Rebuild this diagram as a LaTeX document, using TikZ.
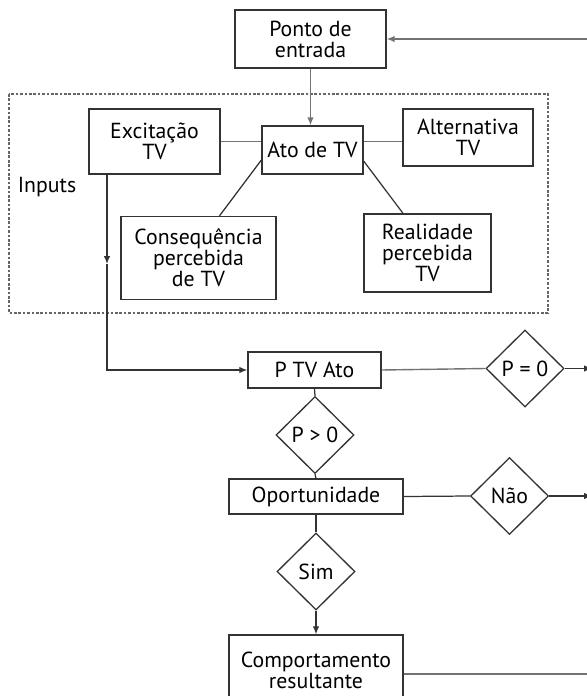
\documentclass[tikz,border=0pt]{standalone}
\usepackage{fontspec}
\setmainfont{PT Sans}
\usetikzlibrary{shapes.geometric,arrows.meta,calc}

\tikzset{
  caixa/.style={draw=black!80, line width=0.75pt, align=center, inner sep=1pt,
    font=\fontsize{12.4}{12}\selectfont},
  losango/.style={diamond, draw=black!80, line width=0.75pt, inner sep=0pt,
    minimum width=1.56cm, minimum height=1.54cm, font=\fontsize{12.4}{12}\selectfont},
  liga/.style={draw=black!80, line width=0.7pt},
  ligaclara/.style={draw=black!55, line width=0.8pt},
  >={Latex[length=1.6mm,width=1.3mm]}
}

\begin{document}
\begin{tikzpicture}[x=0.02cm, y=-0.02cm]
	%\draw[help lines] (0,0) grid (587,696);
	\useasboundingbox (0,0) rectangle (587,696);
	\clip (0,0) rectangle (587,696);

	% caixas
	\node[caixa, minimum width=3.02cm, minimum height=1.16cm] (ponto) at (310.5,39) {Ponto de\\entrada};
	\node[caixa, minimum width=2.62cm, minimum height=1.30cm] (excit) at (154.5,141.5) {Excitação\\TV};
	\node[caixa, minimum width=2.02cm, minimum height=0.96cm] (ato) at (312.5,150) {Ato de TV};
	\node[caixa, minimum width=2.60cm, minimum height=1.14cm] (alt) at (468,137.5) {Alternativa\\TV};
	\node[caixa, minimum width=2.54cm, minimum height=1.56cm] (real) at (427.5,253) {Realidade\\percebida\\TV};
	\node[caixa, minimum width=3.10cm, minimum height=1.66cm] (cons) at (198.5,258) {Consequência\\percebida\\de TV};
	\node[caixa, minimum width=2.66cm, minimum height=0.72cm] (ptv) at (314.5,370) {P TV Ato};
	\node[caixa, minimum width=3.48cm, minimum height=0.70cm] (oport) at (316,496.5) {Oportunidade};
	\node[caixa, minimum width=3.48cm, minimum height=1.40cm] (comp) at (316,670) {Comportamento\\resultante};

	% losangos
	\node[losango] (pzero) at (525,368.5) {P = 0};
	\node[losango] (pmaior) at (315,435) {P > 0};
	\node[losango] (nao) at (509.5,496) {Não};
	\node[losango] (sim) at (316,571.5) {Sim};

	% grupo de inputs
	\draw[black!60, line width=0.7pt, dash pattern=on 1.5pt off 1pt] (9,94) rectangle (548,313);
	\node[font=\fontsize{12.4}{12}\selectfont] (inputs) at (47,187) {Inputs};

	\coordinate (retorno) at (592,39);
	\coordinate (exmeio) at (107,264);

	% ligacoes
	\draw[ligaclara,->] (ponto.south) -- (ponto.south |- ato.north);
	\draw[ligaclara] (excit.east) -- (excit.east -| ato.west);
	\draw[ligaclara] (ato.east |- excit.east) -- (alt.west |- excit.east);
	\draw[liga] ($(ato.west)+(0,10)$) -- ($(cons.north)+(21,0)$);
	\draw[liga] ($(ato.east)+(0,11)$) -- ($(real.north)+(-24.5,0)$);
	\draw[liga] ($(ato.south)+(3.5,0)$) -- ($(ato.south)+(3.5,0)$ |- ptv.north);
	\draw[liga,->] ($(excit.south)+(-47.5,0)$) -- (exmeio);
	\draw[liga,->] (exmeio) |- (ptv.west);
	\draw[ligaclara] (ptv.east) -- (pzero.west);
	\draw[liga,->] (pzero.east) -- (pzero.east -| retorno);
	\draw[liga] (ptv.south) -- (pmaior.north);
	\draw[liga] (pmaior.south) -- (oport.north);
	\draw[liga] (oport.east) -- (nao.west);
	\draw[liga,->] (nao.east) -- (nao.east -| retorno);
	\draw[liga] (oport.south) -- (sim.north);
	\draw[liga,->] (sim.south) -- (comp.north);
	\draw[ligaclara,->] ([yshift=-0.08cm]comp.east) -| (retorno) -- (ponto.east);
\end{tikzpicture}
\end{document}
